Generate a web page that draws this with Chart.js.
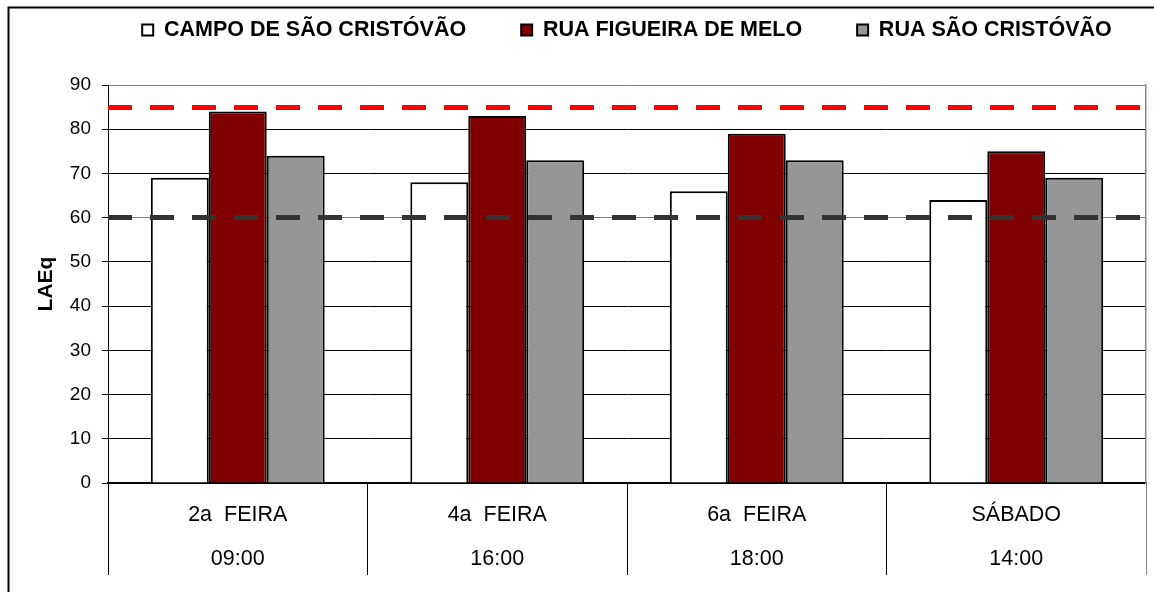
<!DOCTYPE html>
<html>
<head>
<meta charset="utf-8">
<script src="https://cdn.jsdelivr.net/npm/chart.js@4.4.0/dist/chart.umd.min.js"></script>
<style>
  html, body { margin: 0; padding: 0; background: #ffffff; }
  #wrap { width: 1154px; height: 592px; position: relative; }
</style>
</head>
<body>
<div id="wrap"><canvas id="chart"></canvas></div>
<script>
// Measurement days and times (two-row category labels)
const days = ['2a  FEIRA', '4a  FEIRA', '6a  FEIRA', 'SÁBADO'];
const times = ['09:00', '16:00', '18:00', '14:00'];

// Measurement sites
const siteNames = ['CAMPO DE SÃO CRISTÓVÃO', 'RUA FIGUEIRA DE MELO', 'RUA SÃO CRISTÓVÃO'];

// LAEq values per site, in dB(A)
const campoSaoCristovao = [69, 68, 66, 64];
const ruaFigueiraDeMelo = [84, 83, 79, 75];
const ruaSaoCristovao = [74, 73, 73, 69];

// Reference limits drawn as dashed lines across the plot
const limitValues = [60, 85];
const limitColors = ['#333333', '#ff0000'];

// Y axis range
const yMin = 0;
const yMax = 90;
const yStep = 10;

const FONT = "'Liberation Sans', Arial, sans-serif";
Chart.defaults.font.family = FONT;
Chart.defaults.color = '#000000';

// White page with a thin black frame around the chart
const frame = {
  id: 'frame',
  beforeDraw(chart) {
    const c = chart.ctx;
    c.save();
    c.fillStyle = '#ffffff';
    c.fillRect(0, 0, chart.width, chart.height);
    c.strokeStyle = '#000000';
    c.lineWidth = 2;
    c.strokeRect(8.5, 7.5, chart.width + 20, chart.height + 20);
    c.restore();
  }
};

const barSet = (label, values, color) => ({
  label: label,
  data: values,
  backgroundColor: color,
  borderColor: '#000000',
  borderWidth: 2
});

new Chart(document.getElementById('chart'), {
  type: 'bar',
  data: {
    labels: days.map((d, i) => [d, times[i]]),
    datasets: [
      barSet(siteNames[0], campoSaoCristovao, '#ffffff'),
      barSet(siteNames[1], ruaFigueiraDeMelo, '#800000'),
      barSet(siteNames[2], ruaSaoCristovao, '#969696')
    ]
  },
  options: {
    animation: false,
    responsive: true,
    maintainAspectRatio: false,
    // the layout box runs past the right edge so the full-width legend is centred over the plot
    layout: { padding: { top: -35.75, left: 0, right: -100, bottom: 0 } },
    datasets: { bar: { categoryPercentage: 0.67, barPercentage: 1.0 } },
    plugins: {
      tooltip: { enabled: false },
      legend: {
        position: 'top',
        labels: {
          boxWidth: 11,
          boxHeight: 11,
          padding: 55,
          color: '#000000',
          font: { family: FONT, size: 21.5, weight: 'bold' }
        }
      }
    },
    scales: {
      x: {
        type: 'category',
        position: 'bottom',
        offset: true,
        grid: {
          display: true,
          offset: true,
          drawOnChartArea: false,
          drawTicks: true,
          tickLength: 92,
          lineWidth: 1,
          color: (ctx) => (ctx.tick ? '#000000' : '#888888')
        },
        border: { display: true, color: '#000000', width: 1.5 },
        ticks: {
          color: '#000000',
          autoSkip: false,
          maxRotation: 0,
          padding: -81.5,
          font: { family: FONT, size: 21.5, lineHeight: 44 / 21.5 }
        },
        afterFit: (s) => { s.height = 109; }
      },
      // empty band between the legend and the plot
      topGap: {
        type: 'linear',
        axis: 'x',
        position: 'top',
        min: 0,
        max: 1,
        ticks: { display: false },
        grid: { display: false },
        border: { display: false },
        afterFit: (s) => { s.height = 34.25; }
      },
      y: {
        position: 'left',
        min: yMin,
        max: yMax,
        ticks: {
          stepSize: yStep,
          color: '#000000',
          padding: 11,
          font: { family: FONT, size: 19 }
        },
        grid: {
          tickLength: 6,
          lineWidth: 1,
          tickColor: '#000000',
          color: (ctx) => (ctx.tick && (ctx.tick.value === yMax || ctx.tick.value === limitValues[0]) ? '#808080' : '#000000')
        },
        border: { display: true, color: '#000000', width: 1 },
        title: {
          display: true,
          text: 'LAEq',
          color: '#000000',
          font: { family: FONT, size: 21, weight: 'bold' },
          padding: { top: 33.4, bottom: 0 }
        },
        afterFit: (s) => { s.width = 108; }
      },
      // dashed limit lines, painted above the bars
      limits: {
        type: 'linear',
        axis: 'y',
        position: 'right',
        min: yMin,
        max: yMax,
        afterBuildTicks: (s) => { s.ticks = limitValues.map((v) => ({ value: v })); },
        ticks: { display: false },
        grid: {
          z: 1,
          drawOnChartArea: true,
          drawTicks: false,
          lineWidth: 5,
          color: (ctx) => limitColors[Math.max(0, limitValues.indexOf(ctx.tick ? ctx.tick.value : -1))]
        },
        border: { display: false, dash: [24, 18] },
        afterFit: (s) => { s.width = 0; }
      },
      // grey right edge of the plot
      y2: {
        position: 'right',
        min: yMin,
        max: yMax,
        ticks: { display: false },
        grid: { drawOnChartArea: false, drawTicks: false },
        border: { display: true, color: '#888888', width: 1.5 },
        afterFit: (s) => { s.width = 108; }
      }
    }
  },
  plugins: [frame]
});
</script>
</body>
</html>
